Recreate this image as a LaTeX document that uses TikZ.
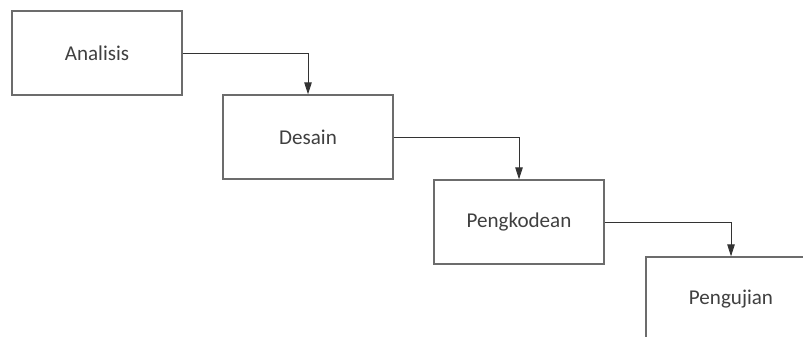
\documentclass[tikz,border=0pt]{standalone}
\usepackage{fontspec}
\setmainfont{Carlito}
\usetikzlibrary{arrows.meta, positioning}

\begin{document}
\begin{tikzpicture}[x=0.02cm, y=-0.02cm,
    tahap/.style={draw=gray!85!black, line width=0.8pt, fill=white,
      minimum width=3.4cm, minimum height=1.68cm, font=\fontsize{12}{14}\selectfont,
      text=black!75},
    alur/.style={draw=black!80, line width=0.5pt,
      -{Triangle[length=0.24cm, width=0.15cm]}}]

    % page
    \clip (0,0) rectangle (803,336);
    \fill[white] (0,0) rectangle (803,336);

    % tahap
    \node[tahap] (analisis) at (97,53) {Analisis};
    \node[tahap] (desain) at (308,137) {Desain};
    \node[tahap] (pengkodean) at (519,222) {Pengkodean};
    \node[tahap] (pengujian) at (731,299) {Pengujian};

    % alur
    \draw[alur] (analisis.east) -| (desain.north);
    \draw[alur] (desain.east) -| (pengkodean.north);
    \draw[alur] (pengkodean.east) -| (pengujian.north);
  \end{tikzpicture}
\end{document}
